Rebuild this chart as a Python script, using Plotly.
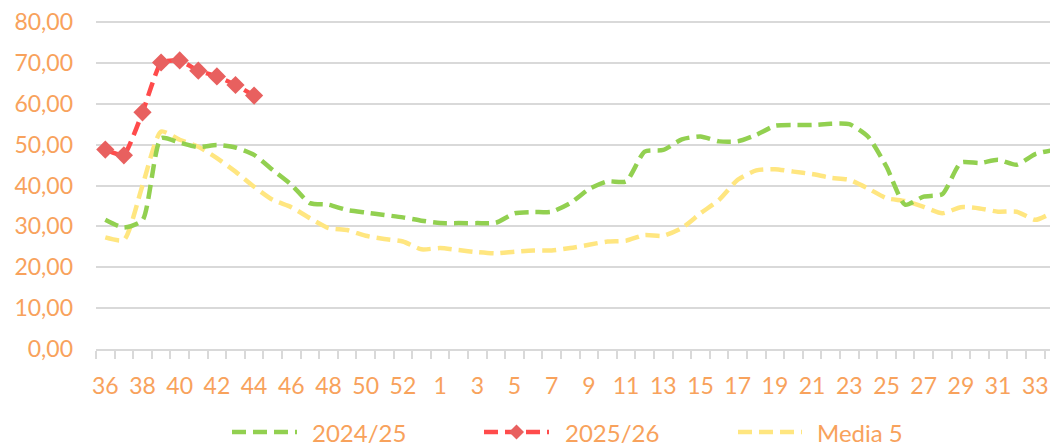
import plotly.graph_objects as go

# ---- data ----
weeks = [str(w) for w in list(range(36, 54)) + list(range(1, 35))]

s2024_25 = [31.6, 29.7, 31.5, 51.6, 50.5, 49.4, 49.9, 49.3, 47.5, 43.8,
            40.2, 35.7, 35.3, 34.0, 33.4, 32.8, 32.2, 31.4, 30.8, 30.8,
            30.8, 30.9, 33.2, 33.5, 33.6, 35.7, 39.1, 41.0, 41.0, 48.3,
            48.7, 51.3, 52.0, 50.8, 50.8, 52.4, 54.6, 54.8, 54.8, 55.1,
            55.0, 52.0, 44.6, 35.3, 37.3, 37.9, 45.6, 45.5, 46.3, 45.1,
            47.7, 48.7]

s2025_26 = [48.8, 47.4, 57.9, 70.1, 70.6, 68.1, 66.7, 64.6, 62.0]

media5 = [27.3, 26.7, 40.0, 53.2, 51.2, 49.5, 46.7, 43.4, 39.7, 36.5,
          34.7, 32.0, 29.6, 29.1, 27.7, 26.9, 26.3, 24.4, 24.7, 24.2,
          23.7, 23.4, 23.8, 24.1, 24.1, 24.7, 25.5, 26.3, 26.5, 27.9,
          27.7, 29.6, 33.2, 36.5, 41.4, 43.7, 44.0, 43.4, 42.8, 41.9,
          41.4, 39.3, 36.9, 36.2, 34.8, 33.2, 34.7, 34.4, 33.6, 33.6,
          31.6, 33.6]

series_names = ["2024/25", "2025/26", "Media 5"]
y_ticks = [0, 10, 20, 30, 40, 50, 60, 70, 80]

# ---- style ----
GREEN = "#92d050"
RED_LINE = "#ff4b4b"
RED_MARK = "#e8605f"
YELLOW = "#ffe680"
TXT = "#f8a25c"
GRID = "#d9d9d9"
FONT = "Lato"
DASH = "14px,7px"

# page body has an 8px margin, so the figure is drawn 8px smaller
OFF = 8
W, H = 1058 - OFF, 448 - OFF
Y_TOP = 80.5                      # a little headroom so the 80 gridline is drawn
PX_PER_UNIT = (349 - 22) / 80.0
L, R = 96 - OFF, 0
B = H - (349 - OFF)
T = round((22 - (Y_TOP - 80) * PX_PER_UNIT) - OFF)

x_idx = list(range(len(weeks)))

fig = go.Figure()
fig.add_trace(go.Scatter(x=x_idx, y=media5, mode="lines", name=series_names[2],
                         line=dict(color=YELLOW, width=4.5, dash=DASH, shape="spline", smoothing=0.6),
                         showlegend=False))
fig.add_trace(go.Scatter(x=x_idx, y=s2024_25, mode="lines", name=series_names[0],
                         line=dict(color=GREEN, width=4.5, dash=DASH, shape="spline", smoothing=0.6),
                         showlegend=False))
fig.add_trace(go.Scatter(x=x_idx[:len(s2025_26)], y=s2025_26, mode="lines+markers", name=series_names[1],
                         line=dict(color=RED_LINE, width=4.5, dash=DASH, shape="spline", smoothing=0.4),
                         marker=dict(symbol="diamond", size=14, color=RED_MARK),
                         showlegend=False))

fig.update_layout(
    width=W, height=H,
    margin=dict(l=L, r=R, t=T, b=B, autoexpand=False),
    paper_bgcolor="white", plot_bgcolor="white",
    font=dict(family=FONT, color=TXT, size=23),
    separators=",.",
    showlegend=False,
)

fig.update_yaxes(
    range=[0, Y_TOP], tickmode="array", tickvals=y_ticks, tickformat=".2f",
    showgrid=True, gridcolor=GRID, gridwidth=1.5,
    zeroline=False, showline=False, automargin=False,
    ticks="", ticklabelstandoff=22, ticklabeloverflow="allow",
    tickfont=dict(family=FONT, color=TXT, size=23),
)

fig.update_xaxes(
    range=[-0.5, 51.22], automargin=False,
    tickmode="array", tickvals=x_idx[::2], ticktext=weeks[::2],
    showgrid=False, zeroline=False,
    showline=True, linecolor=GRID, linewidth=1.5,
    ticks="", ticklabelstandoff=16, ticklabeloverflow="allow",
    tickfont=dict(family=FONT, color=TXT, size=23),
    minor=dict(tickmode="linear", tick0=-0.5, dtick=1, ticks="outside",
               ticklen=8, tickcolor=GRID, tickwidth=1.5, showgrid=False),
)

# ---- legend drawn manually (reference px -> paper) ----
pw, ph = W - L - R, H - T - B
def px(x):
    return (x - OFF - L) / pw
def py(y):
    return (H - B - (y - OFF)) / ph

ly = 432
legend_items = [
    (series_names[0], GREEN, 232, 297, 310, False),
    (series_names[1], RED_LINE, 484, 549, 563, True),
    (series_names[2], YELLOW, 738, 802, 815, False),
]
for name, col, x0, x1, tx, marker in legend_items:
    fig.add_shape(type="line", xref="paper", yref="paper",
                  x0=px(x0), x1=px(x1), y0=py(ly), y1=py(ly),
                  line=dict(color=col, width=4.5, dash=DASH))
    if marker:
        cx, s = (x0 + x1) / 2, 7.5
        path = "M {} {} L {} {} L {} {} L {} {} Z".format(
            px(cx), py(ly - s), px(cx + s), py(ly), px(cx), py(ly + s), px(cx - s), py(ly))
        fig.add_shape(type="path", xref="paper", yref="paper", path=path,
                      fillcolor=RED_MARK, line=dict(width=0))
    fig.add_annotation(xref="paper", yref="paper", x=px(tx), y=py(ly),
                       text=name, showarrow=False, xanchor="left", yanchor="middle",
                       font=dict(family=FONT, color=TXT, size=24))

fig.write_html("out.html")
